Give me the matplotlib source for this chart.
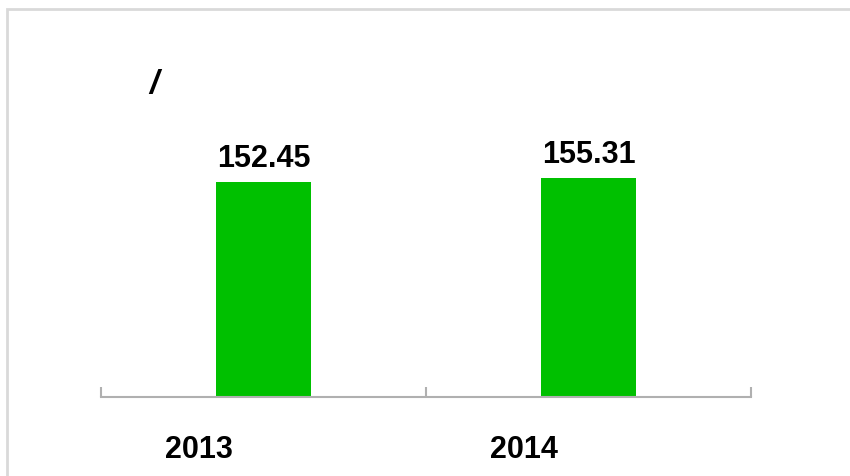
import matplotlib.pyplot as plt
from matplotlib.patches import Rectangle
from matplotlib.transforms import ScaledTranslation

# data
years = ["2013", "2014"]
values = [152.45, 155.31]
title_text = "/"

W, H = 850, 476
fig = plt.figure(figsize=(8.5, 4.76), dpi=100)
plt.rcParams["font.family"] = ["Liberation Sans", "DejaVu Sans"]

# light grey chart frame (right/bottom run off the image)
fig.patches.append(Rectangle((7 / W, -0.1), 1.2, 1 - 9 / H + 0.1,
                             transform=fig.transFigure, fill=False,
                             edgecolor="#d9d9d9", linewidth=2))

ax = fig.add_axes([101 / W, 1 - 397 / H, 650 / W, (397 - 58.5) / H])
x = list(range(len(years)))
ax.bar(x, values, width=0.295, color="#00c000")
ax.set_xlim(-0.5, len(years) - 0.5)
ax.set_ylim(0, 240)

for s in ["top", "right", "left"]:
    ax.spines[s].set_visible(False)
ax.spines["bottom"].set_color("#b0b0b0")
ax.spines["bottom"].set_linewidth(1.5)
ax.set_yticks([])

# category boundary ticks pointing up
ax.set_xticks([-0.5, 0.5, 1.5], minor=True)
ax.tick_params(axis="x", which="minor", direction="in", length=7.5,
               width=1.5, color="#b0b0b0")
ax.set_xticks(x)
ax.set_xticklabels(years, fontsize=22, fontweight="bold")
ax.tick_params(axis="x", which="major", length=0, pad=27)
shift = ScaledTranslation(-0.65, 0, fig.dpi_scale_trans)
for lbl in ax.get_xticklabels():
    lbl.set_transform(lbl.get_transform() + shift)

for xi, v in zip(x, values):
    ax.annotate(f"{v:.2f}", (xi, v), xytext=(0, 6), textcoords="offset points",
                ha="center", va="bottom", fontsize=22, fontweight="bold")

fig.text(149 / W, 1 - 85 / H, title_text, fontsize=24, fontweight="bold",
         fontstyle="italic", ha="left", va="center")

fig.savefig("out.png", dpi=100)
